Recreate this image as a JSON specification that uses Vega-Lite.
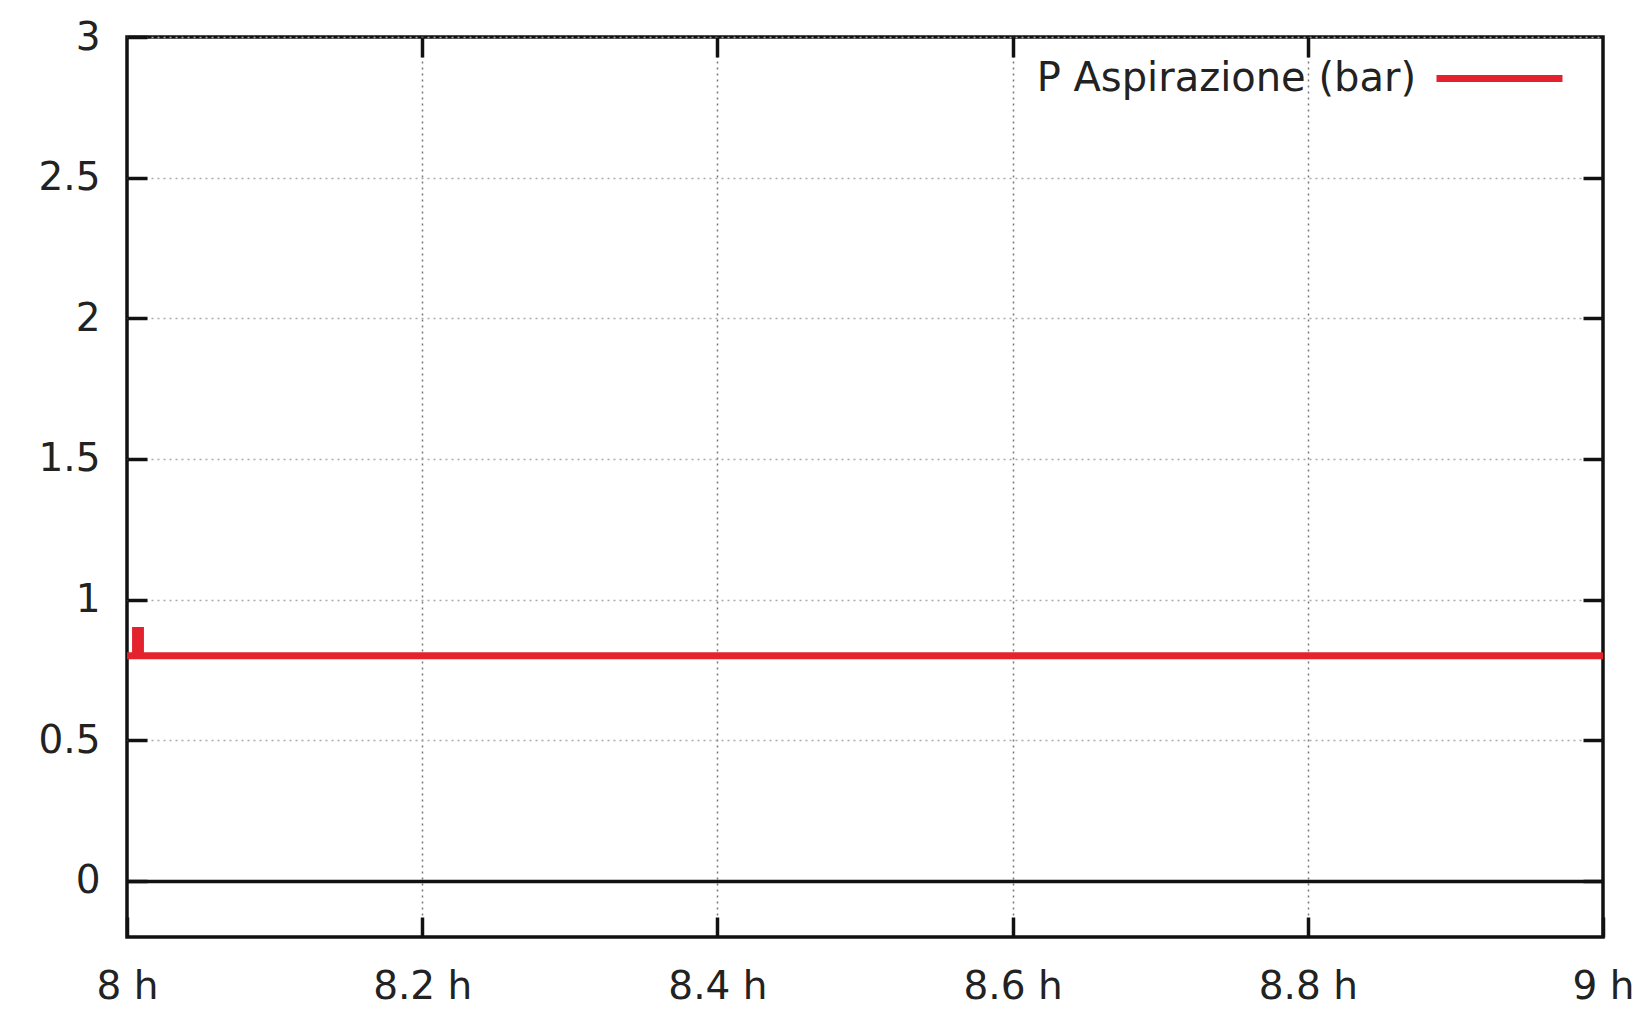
{
  "$schema": "https://vega.github.io/schema/vega-lite/v6.json",
  "autosize": {"type": "none"},
  "padding": {"left": 127, "top": 37, "right": 36, "bottom": 73},
  "width": 1476,
  "height": 900,
  "background": "white",
  "config": {
    "view": {"stroke": "#111", "strokeWidth": 3.5},
    "font": "DejaVu Sans",
    "axis": {
      "labelFont": "DejaVu Sans",
      "labelFontSize": 39,
      "labelColor": "#222",
      "domain": false,
      "tickColor": "#111",
      "tickWidth": 3.5,
      "tickSize": -20,
      "gridColor": "#999",
      "gridWidth": 1.5
    }
  },
  "data": {
    "values": [
      {"i": 0, "t": 8.0, "p": 0.8, "serie": "P Aspirazione (bar)"},
      {"i": 1, "t": 8.0058, "p": 0.8, "serie": "P Aspirazione (bar)"},
      {"i": 2, "t": 8.0058, "p": 0.89, "serie": "P Aspirazione (bar)"},
      {"i": 3, "t": 8.0091, "p": 0.89, "serie": "P Aspirazione (bar)"},
      {"i": 4, "t": 8.0091, "p": 0.8, "serie": "P Aspirazione (bar)"},
      {"i": 5, "t": 9.0, "p": 0.8, "serie": "P Aspirazione (bar)"}
    ]
  },
  "layer": [
    {
      "mark": {"type": "line", "strokeWidth": 7, "clip": true},
      "encoding": {
        "x": {
          "field": "t", "type": "quantitative",
          "scale": {"domain": [8, 9], "nice": false, "zero": false},
          "axis": {
            "title": null,
            "values": [8, 8.2, 8.4, 8.6, 8.8, 9],
            "format": "~g",
            "labelExpr": "datum.label + ' h'",
            "labelPadding": 50,
            "labelFlush": false,
            "labelOverlap": false,
            "grid": true,
            "gridDash": [2, 4],
            "gridColor": {"condition": {"test": "datum.value === 8 || datum.value === 9", "value": "transparent"}, "value": "#777"}
          }
        },
        "y": {
          "field": "p", "type": "quantitative",
          "scale": {"domain": [-0.2, 3], "nice": false, "zero": false},
          "axis": {
            "title": null,
            "values": [0, 0.5, 1, 1.5, 2, 2.5, 3],
            "format": "~g",
            "labelPadding": 47,
            "labelFlush": false,
            "labelOverlap": false,
            "grid": true,
            "gridDash": {"condition": {"test": "datum.value === 0", "value": []}, "value": [2, 4]},
            "gridColor": {"condition": {"test": "datum.value === 0", "value": "#111"}, "value": "#aaa"},
            "gridWidth": {"condition": {"test": "datum.value === 0", "value": 3.5}, "value": 1.5}
          }
        },
        "order": {"field": "i", "type": "quantitative"},
        "color": {
          "field": "serie", "type": "nominal",
          "scale": {"range": ["#e3222d"]},
          "legend": {
            "title": null,
            "orient": "none",
            "legendX": 1306,
            "legendY": -25,
            "padding": 0,
            "symbolType": "stroke",
            "symbolSize": 15876,
            "symbolStrokeWidth": 7,
            "labelFont": "DejaVu Sans",
            "labelFontSize": 40,
            "labelColor": "#222",
            "labelAlign": "right",
            "labelOffset": -150,
            "labelLimit": 2000
          }
        }
      }
    },
    {
      "mark": {"type": "line", "opacity": 0},
      "encoding": {
        "x": {
          "field": "t", "type": "quantitative",
          "scale": {"domain": [8, 9], "nice": false, "zero": false},
          "axis": {"orient": "top", "title": null, "values": [8.2, 8.4, 8.6, 8.8], "labels": false, "grid": false}
        },
        "y": {
          "field": "p", "type": "quantitative",
          "scale": {"domain": [-0.2, 3], "nice": false, "zero": false},
          "axis": {"orient": "right", "title": null, "values": [0, 0.5, 1, 1.5, 2, 2.5], "labels": false, "grid": false}
        },
        "order": {"field": "i", "type": "quantitative"}
      }
    }
  ],
  "resolve": {"scale": {"x": "independent", "y": "independent"}}
}
